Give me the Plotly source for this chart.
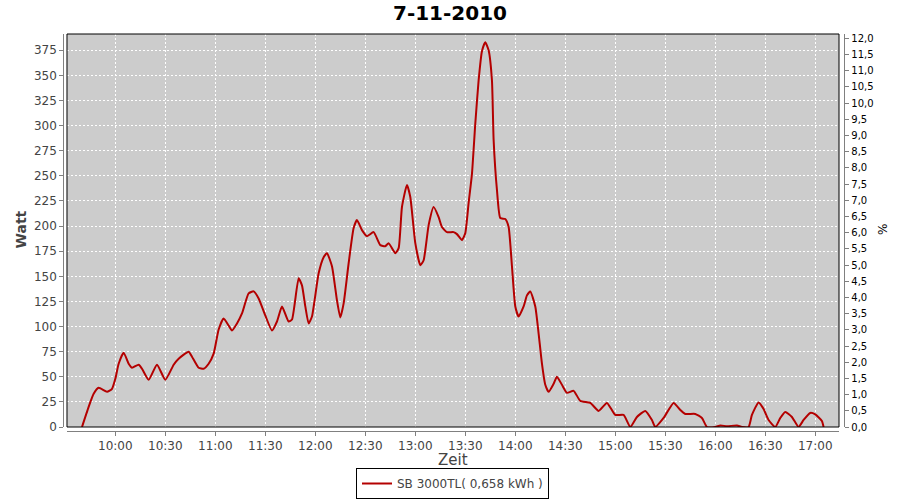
import plotly.graph_objects as go

DAY = "2010-11-07 "
times = ["09:40", "09:44", "09:47", "09:50", "09:55", "09:58", "10:00", "10:02", "10:05", "10:08",
         "10:10", "10:14", "10:16", "10:20", "10:25", "10:30", "10:35", "10:38", "10:44", "10:46",
         "10:50", "10:53", "10:56", "10:59", "11:02", "11:05", "11:08", "11:10", "11:13", "11:16",
         "11:20", "11:23", "11:26", "11:30", "11:34", "11:37", "11:40", "11:44", "11:46", "11:50",
         "11:52", "11:54", "11:56", "11:58", "12:02", "12:05", "12:07", "12:10", "12:13", "12:15",
         "12:17", "12:20", "12:23", "12:25", "12:28", "12:31", "12:35", "12:39", "12:42", "12:44",
         "12:48", "12:50", "12:52", "12:55", "12:57", "13:00", "13:03", "13:05", "13:08", "13:11",
         "13:14", "13:16", "13:19", "13:23", "13:25", "13:28", "13:30", "13:32", "13:34", "13:36",
         "13:38", "13:40", "13:42", "13:44", "13:46", "13:47", "13:49", "13:51", "13:54", "13:56",
         "13:58", "14:00", "14:02", "14:05", "14:07", "14:09", "14:12", "14:14", "14:16", "14:18",
         "14:20", "14:23", "14:25", "14:28", "14:31", "14:35", "14:39", "14:45", "14:50", "14:55",
         "15:00", "15:05", "15:09", "15:13", "15:18", "15:22", "15:24", "15:29", "15:35", "15:39",
         "15:42", "15:48", "15:52", "15:55", "16:00", "16:03", "16:07", "16:13", "16:16", "16:20",
         "16:22", "16:26", "16:29", "16:32", "16:36", "16:39", "16:42", "16:46", "16:50", "16:53",
         "16:57", "17:00", "17:04", "17:05"]
watt = [0, 20, 33, 39, 35, 38, 48, 63, 74, 63,
        59, 62, 58, 47, 62, 47, 62, 68, 75, 70,
        59, 58, 63, 73, 97, 108, 101, 96, 103, 113,
        133, 135, 128, 111, 96, 105, 120, 105, 107, 148,
        141, 120, 103, 110, 153, 169, 173, 160, 126, 109,
        123, 163, 198, 206, 196, 190, 194, 181, 180, 183,
        173, 178, 219, 241, 229, 183, 161, 166, 201, 219,
        209, 199, 194, 194, 192, 186, 193, 223, 252, 302,
        345, 374, 383, 375, 345, 286, 236, 208, 207, 199,
        160, 120, 110, 120, 131, 135, 120, 93, 63, 42,
        35, 43, 50, 42, 34, 36, 26, 24, 16, 24,
        12, 12, 0, 10, 16, 7, 0, 9, 24, 17,
        13, 13, 9, 0, 0, 1.5, 0.8, 1.5, 0, 0,
        12, 24.5, 18, 7, 0, 9, 15, 10, 0, 7,
        14, 12.5, 6, 0]

title_text = "7-11-2010"
series_name = "SB 3000TL( 0,658 kWh )"
left_title = "Watt"
right_title = "%"
x_title = "Zeit"

x_vals = [DAY + t for t in times]

GRAY = "#808080"
TXT = "#444444"
FONT = "DejaVu Sans, Verdana, sans-serif"

fig = go.Figure()
fig.add_trace(go.Scatter(
    x=x_vals, y=watt, mode="lines", name=series_name,
    line=dict(color="#B40000", width=2, shape="spline", smoothing=0.5),
))
fig.add_trace(go.Scatter(
    x=[x_vals[0]], y=[0], yaxis="y2", mode="markers",
    marker=dict(opacity=0), showlegend=False, hoverinfo="skip",
))

fig.update_layout(
    width=900, height=500,
    margin=dict(l=60, r=55, t=34, b=66, autoexpand=False),
    paper_bgcolor="white", plot_bgcolor="#CCCCCC",
    separators=",.",
    font=dict(family=FONT, size=12, color=TXT),
    title=dict(text="<b>" + title_text + "</b>", x=0.5, xanchor="center",
               y=1 - 13 / 500, yanchor="middle", yref="container",
               font=dict(family=FONT, size=20, color="black")),
    xaxis=dict(
        type="date", domain=[0.008917, 0.992357],
        range=[DAY + "09:31:00", DAY + "17:14:15"],
        tick0=DAY + "10:00", dtick=30 * 60 * 1000, tickformat="%H:%M",
        showgrid=True, gridcolor="white", griddash="2px,2px", gridwidth=1,
        showline=True, linecolor=GRAY, linewidth=1,
        anchor="free", position=0.0075,
        ticks="outside", ticklen=4, tickcolor=GRAY,
        tickfont=dict(family=FONT, size=12, color=TXT),
        zeroline=False,
    ),
    yaxis=dict(
        domain=[0.0175, 1.0], range=[0, 391.2],
        tick0=0, dtick=25,
        showgrid=True, gridcolor="white", griddash="2px,2px", gridwidth=1,
        showline=True, linecolor=GRAY, linewidth=1,
        anchor="free", position=0.0042,
        ticks="outside", ticklen=4, tickcolor=GRAY,
        tickfont=dict(family=FONT, size=12, color=TXT),
        zeroline=False,
    ),
    yaxis2=dict(
        overlaying="y", side="right", range=[0, 12.13],
        tick0=0, dtick=0.5, tickformat=".1f",
        showgrid=False, zeroline=False,
        showline=True, linecolor=GRAY, linewidth=1,
        anchor="free", position=0.99911,
        ticks="outside", ticklen=4, tickcolor=GRAY,
        tickfont=dict(family=FONT, size=10, color="black"),
    ),
    legend=dict(
        orientation="h", x=0.5, xanchor="center", y=(434 - 499) / 400, yanchor="bottom",
        bordercolor="black", borderwidth=1, bgcolor="white",
        font=dict(family=FONT, size=12, color=TXT),
        itemwidth=30,
    ),
    showlegend=True,
)

fig.add_shape(type="rect", xref="x domain", yref="y domain", x0=0, x1=1, y0=0, y1=1,
              line=dict(color="black", width=1), layer="above")

fig.add_annotation(text="<b>" + left_title + "</b>", xref="paper", yref="paper",
                   x=(20.5 - 60) / 785, y=(434 - 230) / 400, showarrow=False, textangle=-90,
                   xanchor="center", yanchor="middle",
                   font=dict(family=FONT, size=14, color=TXT))
fig.add_annotation(text=x_title, xref="paper", yref="paper",
                   x=(453 - 60) / 785, y=(434 - 460) / 400, showarrow=False,
                   xanchor="center", yanchor="middle",
                   font=dict(family=FONT, size=15, color=TXT))
fig.add_annotation(text=right_title, xref="paper", yref="paper",
                   x=(883 - 60) / 785, y=(434 - 230) / 400, showarrow=False, textangle=-90,
                   xanchor="center", yanchor="middle",
                   font=dict(family=FONT, size=12, color="black"))

fig.write_html("out.html", config={"displayModeBar": False},
               post_script="document.body.style.margin='0';document.body.style.overflow='hidden';")
